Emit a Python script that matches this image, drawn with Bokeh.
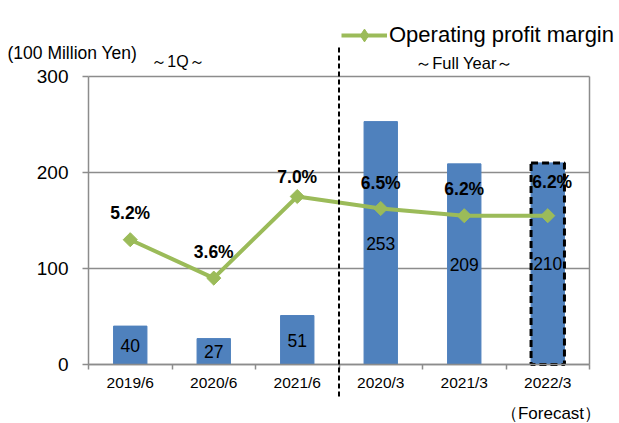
import math
from bokeh.plotting import figure
from bokeh.models import (Range1d, FixedTicker, ColumnDataSource, LabelSet, Label,
                          Legend, LegendItem, Arrow, CDSView, BooleanFilter, LinearAxis)
from bokeh.core.properties import value
from bokeh.embed import file_html
from bokeh.resources import INLINE

# ---- data ----
categories = ["2019/6", "2020/6", "2021/6", "2020/3", "2021/3", "2022/3"]
operating_profit = [40, 27, 51, 253, 209, 210]          # 100 Million Yen
profit_margin = [5.2, 3.6, 7.0, 6.5, 6.2, 6.2]           # %
margin_labels = ["5.2%", "3.6%", "7.0%", "6.5%", "6.2%", "6.2%"]
is_forecast = [False, False, False, False, False, True]
y_ticks = [0, 100, 200, 300]
y_max = 300
pct_max = 12

# label placement (pixels), kept apart from the data
margin_label_dy = [27, 26.5, 20, 26, 27, 33.5]
margin_label_dx = [0, 0, 0, 0, 0, 4.5]

# ---- layout (pixels) ----
W, H = 617, 422
LEFT, TOP, PW, PH = 88, 76, 501, 288
n = len(categories)
CW = PW / n                  # px per category
PXU = PH / y_max             # px per 100 Million Yen
PXP = PH / pct_max           # px per %

FONT = "Liberation Sans"
GRID = "#8c8c8c"
BAR = "#4F81BD"
GREEN = "#9BBB59"


def dx(px):      # page x -> data x
    return (px - LEFT) / CW - 0.5


def dy(py):      # page y -> data y
    return (TOP + PH - py) / PXU


idx = list(range(n))
src = ColumnDataSource(dict(
    x=idx, sales=operating_profit, half=[v / 2 for v in operating_profit],
    sales_txt=[str(v) for v in operating_profit],
    margin=profit_margin, mtxt=margin_labels,
    dy=margin_label_dy, dx=margin_label_dx,
))

p = figure(width=W, height=H,
           x_range=Range1d(-0.5 - LEFT / CW, n - 0.5 + (W - LEFT - PW) / CW),
           y_range=Range1d(-(H - TOP - PH) / PXU, y_max + TOP / PXU),
           output_backend="svg", toolbar_location=None,
           min_border=0, min_border_left=0, min_border_right=0,
           min_border_top=0, min_border_bottom=0)
p.extra_y_ranges = {"pct": Range1d(-(H - TOP - PH) / PXP, pct_max + TOP / PXP)}
p.background_fill_color = "white"
p.border_fill_color = "white"
p.outline_line_color = None

# x axis: labels at centres, tick marks at category boundaries
xa = p.xaxis[0]
xa.fixed_location = 0
xa.bounds = (-0.5, n - 0.5)
xa.ticker = FixedTicker(ticks=idx, minor_ticks=[i - 0.5 for i in range(n + 1)])
xa.major_label_overrides = {i: c for i, c in zip(idx, categories)}
xa.major_tick_line_color = None
xa.major_tick_out = 0
xa.major_tick_in = 0
xa.minor_tick_in = 0
xa.minor_tick_out = 5
xa.minor_tick_line_color = GRID
xa.minor_tick_line_width = 1.5
xa.axis_line_color = GRID
xa.axis_line_width = 1.5
xa.major_label_text_font = FONT
xa.major_label_text_font_size = "15.5px"
xa.major_label_text_color = "black"
xa.major_label_standoff = 4

ya = p.yaxis[0]
ya.fixed_location = -0.5
ya.bounds = (0, y_max)
ya.ticker = FixedTicker(ticks=y_ticks)
ya.major_tick_in = 0
ya.major_tick_out = 6
ya.major_tick_line_color = GRID
ya.major_tick_line_width = 1.5
ya.minor_tick_line_color = None
ya.axis_line_color = GRID
ya.axis_line_width = 1.5
ya.major_label_text_font = FONT
ya.major_label_text_font_size = "19px"
ya.major_label_text_color = "black"
ya.major_label_standoff = 14

# right border of the plot area
ra = LinearAxis(fixed_location=n - 0.5, bounds=(0, y_max), ticker=FixedTicker(ticks=[]),
                axis_line_color=GRID, axis_line_width=1.5,
                major_tick_line_color=None, minor_tick_line_color=None,
                major_label_text_font_size="0px")
p.add_layout(ra, "right")

p.xgrid.grid_line_color = None
p.ygrid.grid_line_color = GRID
p.ygrid.grid_line_width = 1.5
p.ygrid.bounds = (0, y_max)
if "cross_bounds" in p.ygrid.properties():
    p.ygrid.cross_bounds = (-0.5, n - 0.5)
else:
    p.ygrid.grid_line_color = None
    p.segment(x0=[-0.5] * len(y_ticks), x1=[n - 0.5] * len(y_ticks), y0=y_ticks, y1=y_ticks,
              line_color=GRID, line_width=1.5, level="underlay")

# divider between 1Q and full-year
p.add_layout(Arrow(end=None, x_start=2.5, x_end=2.5, y_start=dy(47), y_end=dy(397),
                   line_color="black", line_width=2, line_dash="5 3"))

# bars
p.vbar(x="x", top="sales", width=0.4, source=src, fill_color=BAR, line_color=BAR)
fc_view = CDSView(filter=BooleanFilter(is_forecast))
p.vbar(x="x", top="sales", width=0.4, source=src, view=fc_view, fill_color=None,
       line_color="black", line_width=3, line_dash="7 4")

p.add_layout(LabelSet(x="x", y="half", text="sales_txt", source=src,
                      text_align="center", text_baseline="middle",
                      text_font=value(FONT), text_font_size="17.5px", text_color="black"))

# margin line
lr = p.line(x="x", y="margin", source=src, y_range_name="pct", line_color=GREEN, line_width=4)
# diamond used for the legend symbol (hidden beneath the rotated squares in the plot)
legend_sym = p.scatter(x="x", y="margin", source=src, y_range_name="pct", marker="diamond",
                       size=12, fill_color=GREEN, line_color=GREEN)
mr = p.scatter(x="x", y="margin", source=src, y_range_name="pct", marker="square",
               angle=math.pi / 4, size=10, fill_color=GREEN, line_color=GREEN)
p.add_layout(LabelSet(x="x", y="margin", text="mtxt", source=src, y_range_name="pct",
                      x_offset="dx", y_offset="dy",
                      text_align="center", text_baseline="middle",
                      text_font=value(FONT), text_font_style="bold", text_font_size="17.5px",
                      text_color="black"))


# header / footer texts
def lab(text, x, y, size, align="center"):
    p.add_layout(Label(x=x, y=y, text=text, text_font=FONT, text_font_size=size,
                       text_align=align, text_baseline="middle", text_color="black"))


lab("(100 Million Yen)", dx(7), dy(52), "17.5px", "left")
lab("～1Q～", dx(177.5), dy(61), "16px")
lab("～Full Year～", dx(464), dy(62), "16.5px")
lab("（Forecast）", dx(550.5), dy(413), "17px")

legend = Legend(items=[LegendItem(label="Operating profit margin", renderers=[lr, legend_sym])],
                location=(341, H - 51), orientation="horizontal",
                glyph_width=46, glyph_height=32, label_standoff=2, padding=0, margin=0,
                border_line_color=None, background_fill_alpha=0,
                label_text_font=FONT, label_text_font_size="22px", label_text_color="black")
p.add_layout(legend)

open("out.html", "w").write(file_html(p, INLINE))
